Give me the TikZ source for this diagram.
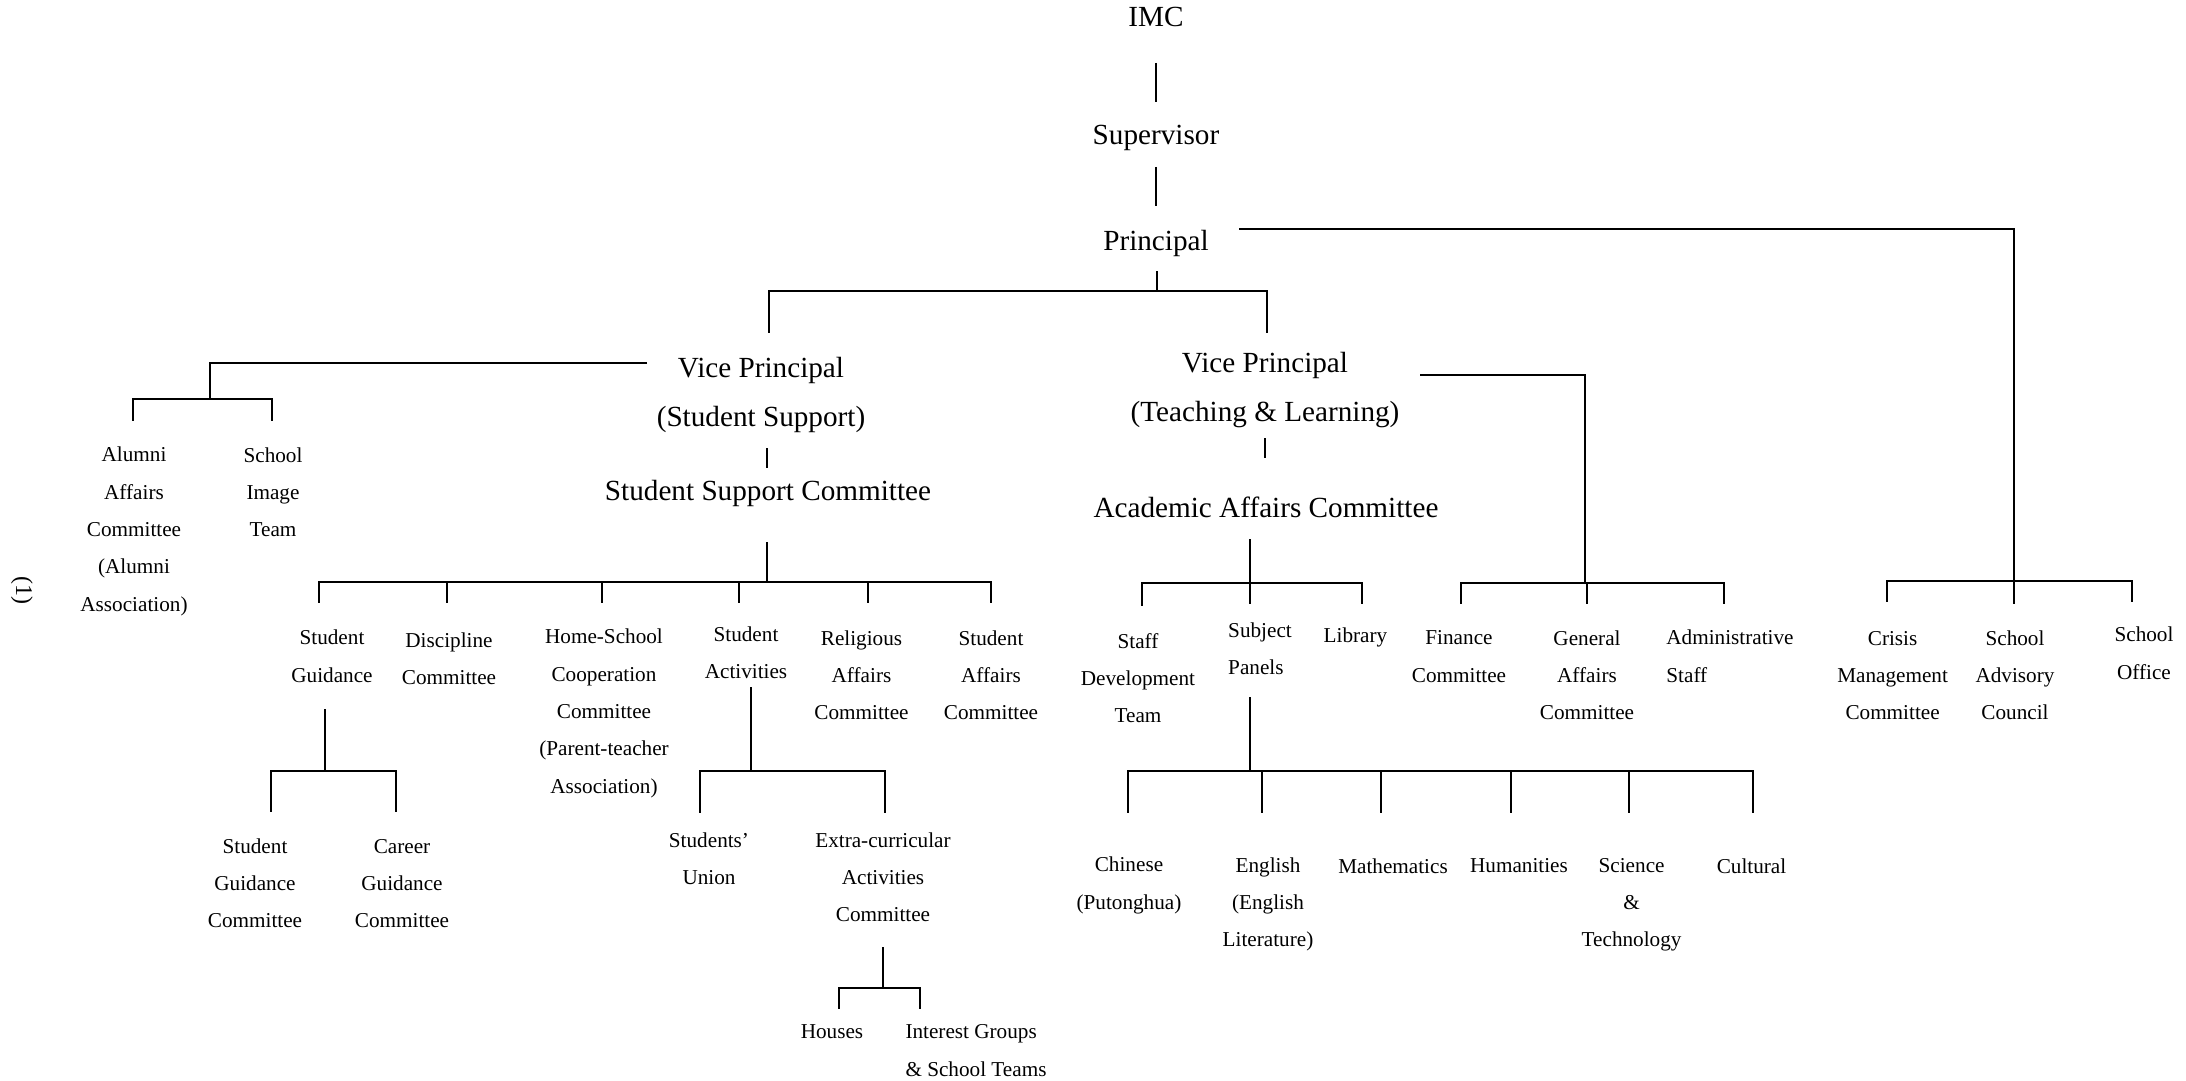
\documentclass[tikz,border=0pt]{standalone}
\usepackage{fontspec}
\setmainfont{Liberation Serif}
\usepackage{tikz}
\usetikzlibrary{positioning}
\def\cellhead{\hfil\strut##\hfil\cr}
\def\cellheadleft{\strut##\hfil\cr}
\tikzstyle{title} = [font=\fontsize{14.6}{24.4}\selectfont, align=center,
    node halign header=\cellhead, inner sep=0pt]
\tikzstyle{unit} = [font=\fontsize{10.6}{18.7}\selectfont, align=center,
    node halign header=\cellhead, inner sep=0pt]
\tikzstyle{unitleft} = [unit, align=left, node halign header=\cellheadleft]
\tikzstyle{bar} = [draw, line width=0.8pt]

\begin{document}
\begin{tikzpicture}[x=0.5pt, y=-0.5pt]
  \useasboundingbox (0,0) rectangle (2186,1081);
  % Place nodes
  \node [title] (imc) at (1156,17) {IMC};
  \node [title, below of=imc, node distance=60.5pt] (supervisor) {Supervisor};
  \node [title, below of=supervisor, node distance=52.5pt] (principal) {Principal};
  \node [title] (vpss) at (761,392.5) {Vice Principal\\(Student Support)};
  \node [title] (vptl) at (1265,387.5) {Vice Principal\\(Teaching \& Learning)};
  \node [title] (sscom) at (768,493) {Student Support Committee};
  \node [title] (aacom) at (1266,507) {Academic Affairs Committee};
  \node [rotate=-90, font=\fontsize{12}{14}\selectfont] (note) at (22,590) {(1)};

  % Student support side
  \node [unit] (alumni) at (134,529) {Alumni\\Affairs\\Committee\\(Alumni\\Association)};
  \node [unit] (image) at (273,492) {School\\Image\\Team};
  \node [unit] (guidance) at (332,656) {Student\\Guidance};
  \node [unit] (discipline) at (449,658.5) {Discipline\\Committee};
  \node [unit] (homeschool) at (604,711) {Home-School\\Cooperation\\Committee\\(Parent-teacher\\Association)};
  \node [unit] (activities) at (746,652.5) {Student\\Activities};
  \node [unit] (religious) at (861.5,675) {Religious\\Affairs\\Committee};
  \node [unit] (affairs) at (991,675) {Student\\Affairs\\Committee};
  \node [unit] (sgcom) at (255,883) {Student\\Guidance\\Committee};
  \node [unit] (careercom) at (402,883) {Career\\Guidance\\Committee};
  \node [unit] (union) at (709,858.5) {Students'\\Union};
  \node [unit] (ecacom) at (883,877) {Extra-curricular\\Activities\\Committee};
  \node [unit] (houses) at (832,1032) {Houses};
  \node [unitleft] (interest) at (976,1050) {Interest Groups\\\& School Teams};

  % Teaching and learning side
  \node [unit] (staffdev) at (1138,678) {Staff\\Development\\Team};
  \node [unitleft] (panels) at (1260,648.5) {Subject\\Panels};
  \node [unit] (library) at (1355.5,637) {Library};
  \node [unit] (finance) at (1459,656) {Finance\\Committee};
  \node [unit] (general) at (1587,675) {General\\Affairs\\Committee};
  \node [unitleft] (admin) at (1730,656) {Administrative\\Staff};
  \node [unit] (chinese) at (1129,883) {Chinese\\(Putonghua)};
  \node [unit] (english) at (1268,902) {English\\(English\\Literature)};
  \node [unit] (maths) at (1393,866) {Mathematics};
  \node [unit] (humanities) at (1519,866) {Humanities};
  \node [unit] (science) at (1631.6,902) {Science\\\&\\Technology};
  \node [unit] (cultural) at (1751.5,866) {Cultural};

  % Principal's own units
  \node [unit] (crisis) at (1892.6,675) {Crisis\\Management\\Committee};
  \node [unit] (advisory) at (2015,675) {School\\Advisory\\Council};
  \node [unit] (office) at (2144,653) {School\\Office};

  % Bus points
  \coordinate (pbus) at (1157,291);
  \coordinate (obus) at (2014,581);
  \coordinate (abus) at (210,399);
  \coordinate (ssbus) at (767,582);
  \coordinate (sgbus) at (325,771);
  \coordinate (sabus) at (751,771);
  \coordinate (ecbus) at (883,988);
  \coordinate (aabus) at (1250,583);
  \coordinate (spbus) at (1250,771);
  \coordinate (gabus) at (1585,583);

  % Draw edges
  \path [bar] ([shift={(0,46)}]imc.center) -- ([shift={(0,-36)}]supervisor.center);
  \path [bar] ([shift={(0,29)}]supervisor.center) -- ([shift={(0,-37)}]principal.center);
  \path [bar] ([shift={(1,28)}]principal.center) -- (pbus);
  \path [bar] (pbus) -| ([shift={(8,-59.5)}]vpss.center);
  \path [bar] (pbus) -| ([shift={(2,-54.5)}]vptl.center);
  \path [bar] ([shift={(83,-14)}]principal.center) -| (obus);
  \path [bar] (obus) -| ([shift={(-5.6,-73)}]crisis.center);
  \path [bar] (obus) -- ([shift={(-1,-71)}]advisory.center);
  \path [bar] (obus) -| ([shift={(-12,-51)}]office.center);

  % Student support tree
  \path [bar] ([shift={(-114,-29.5)}]vpss.center) -| (abus);
  \path [bar] (abus) -| ([shift={(-1,-108)}]alumni.center);
  \path [bar] (abus) -| ([shift={(-1,-71)}]image.center);
  \path [bar] ([shift={(6,55.5)}]vpss.center) -- ([shift={(-1,-25)}]sscom.center);
  \path [bar] ([shift={(-1,49)}]sscom.center) -- (ssbus);
  \path [bar] (ssbus) -| ([shift={(-13,-53)}]guidance.center);
  \path [bar] (ssbus) -| ([shift={(-2,-55.5)}]discipline.center);
  \path [bar] (ssbus) -| ([shift={(-2,-108)}]homeschool.center);
  \path [bar] (ssbus) -| ([shift={(-7,-49.5)}]activities.center);
  \path [bar] (ssbus) -| ([shift={(6.5,-72)}]religious.center);
  \path [bar] (ssbus) -| ([shift={(0,-72)}]affairs.center);
  \path [bar] ([shift={(-7,53)}]guidance.center) -- (sgbus);
  \path [bar] (sgbus) -| ([shift={(16,-71)}]sgcom.center);
  \path [bar] (sgbus) -| ([shift={(-6,-71)}]careercom.center);
  \path [bar] ([shift={(5,34.5)}]activities.center) -- (sabus);
  \path [bar] (sabus) -| ([shift={(-9,-45.5)}]union.center);
  \path [bar] (sabus) -| ([shift={(2,-64)}]ecacom.center);
  \path [bar] ([shift={(0,70)}]ecacom.center) -- (ecbus);
  \path [bar] (ecbus) -| ([shift={(7,-23)}]houses.center);
  \path [bar] (ecbus) -| ([shift={(-56,-41)}]interest.center);

  % Teaching and learning tree
  \path [bar] ([shift={(0,50.5)}]vptl.center) -- ([shift={(-1,-49)}]aacom.center);
  \path [bar] ([shift={(-16,32)}]aacom.center) -- (aabus);
  \path [bar] (aabus) -| ([shift={(4,-72)}]staffdev.center);
  \path [bar] (aabus) -| ([shift={(-10,-44.5)}]panels.center);
  \path [bar] (aabus) -| ([shift={(6.5,-33)}]library.center);
  \path [bar] ([shift={(-10,48.5)}]panels.center) -- (spbus);
  \path [bar] (spbus) -| ([shift={(-1,-70)}]chinese.center);
  \path [bar] (spbus) -| ([shift={(-6,-89)}]english.center);
  \path [bar] (spbus) -| ([shift={(-12,-53)}]maths.center);
  \path [bar] (spbus) -| ([shift={(-8,-53)}]humanities.center);
  \path [bar] (spbus) -| ([shift={(-2.6,-89)}]science.center);
  \path [bar] (spbus) -| ([shift={(1.5,-53)}]cultural.center);
  \path [bar] ([shift={(155,-12.5)}]vptl.center) -| (gabus);
  \path [bar] (gabus) -| ([shift={(2,-52)}]finance.center);
  \path [bar] (gabus) -| ([shift={(0,-71)}]general.center);
  \path [bar] (gabus) -| ([shift={(-6,-52)}]admin.center);
\end{tikzpicture}
\end{document}
